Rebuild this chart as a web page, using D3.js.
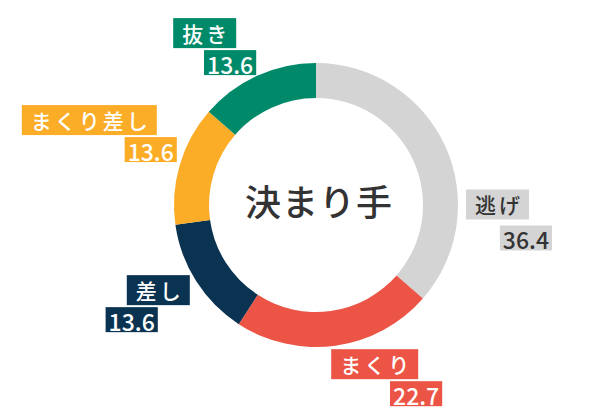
<!doctype html>
<html>
<head>
<meta charset="utf-8">
<script src="https://d3js.org/d3.v7.min.js"></script>
<style>
  body { margin: 0; background: #fff; }
  svg text { font-family: "Noto Sans CJK JP", "Noto Sans", sans-serif; font-weight: 500; }
</style>
</head>
<body>
<svg></svg>
<script>
  const categories = ["逃げ", "まくり", "差し", "まくり差し", "抜き"];
  const values = [36.4, 22.7, 13.6, 13.6, 13.6];
  const colors = ["#d4d4d4", "#ec5446", "#0a3352", "#fbad28", "#008a6a"];
  const textColors = ["#333333", "#ffffff", "#ffffff", "#ffffff", "#ffffff"];
  const centerTitle = "決まり手";

  // label tweaks relative to the arc centroid: [dx, dy, value box shift, gap]
  const labelNudge = [[40, 93, 23, 6], [76, -14, 24, 2], [34, -2, -32, 2], [23, -16, 20, 2], [-1, 16, 20, 2]];

  const width = 600, height = 420;
  const cx = 316, cy = 205;
  const outerR = 142, innerR = 107, labelR = 190;

  const svg = d3.select("svg")
    .attr("width", width)
    .attr("height", height);

  const g = svg.append("g")
    .attr("transform", `translate(${cx}, ${cy})`);

  const pie = d3.pie()
    .sort(null)
    .value(d => d);

  const arc = d3.arc()
    .innerRadius(innerR)
    .outerRadius(outerR);

  const labelArc = d3.arc()
    .innerRadius(labelR)
    .outerRadius(labelR);

  const arcs = pie(values);

  g.selectAll("path.slice")
    .data(arcs)
    .enter()
    .append("path")
    .attr("class", "slice")
    .attr("d", arc)
    .attr("fill", (d, i) => colors[i]);

  g.append("text")
    .attr("x", 3)
    .attr("y", -5)
    .attr("text-anchor", "middle")
    .attr("dominant-baseline", "central")
    .attr("fill", "#333")
    .style("font-size", "36px")
    .style("letter-spacing", "1px")
    .text(centerTitle);

  arcs.forEach(function (d, i) {
    const c = labelArc.centroid(d);
    const n = labelNudge[i];
    const px = c[0] + n[0], py = c[1] + n[1];
    const lab = g.append("g");

    // category name box
    const namePad = 9, nameH = 30;
    const nameBox = lab.append("rect");
    const name = lab.append("text")
      .attr("dominant-baseline", "central")
      .attr("fill", textColors[i])
      .style("font-size", "21px")
      .style("letter-spacing", "3px")
      .text(categories[i]);
    const nw = name.node().getComputedTextLength() - 3 + 2 * namePad;
    nameBox.attr("x", px - nw).attr("y", py - nameH)
      .attr("width", nw).attr("height", nameH)
      .attr("fill", colors[i]);
    name.attr("x", px - nw + namePad).attr("y", py - nameH / 2);

    // value box
    const valPad = 3, valH = 25;
    const valBox = lab.append("rect");
    const val = lab.append("text")
      .attr("dominant-baseline", "central")
      .attr("fill", textColors[i])
      .style("font-size", "23px")
      .text(values[i]);
    const vw = val.node().getComputedTextLength() + 2 * valPad;
    const vr = px + n[2];
    valBox.attr("x", vr - vw).attr("y", py + n[3])
      .attr("width", vw).attr("height", valH)
      .attr("fill", colors[i]);
    val.attr("x", vr - vw + valPad).attr("y", py + n[3] + valH / 2 + 1);
  });
</script>
</body>
</html>
